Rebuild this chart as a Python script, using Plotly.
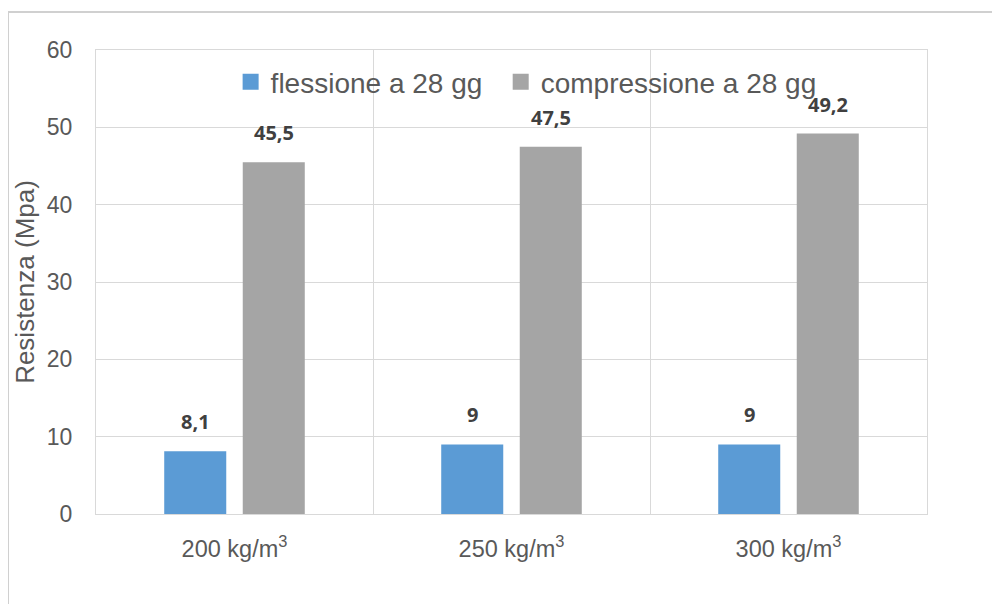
import plotly.graph_objects as go

categories = ["200 kg/m<sup>3</sup>", "250 kg/m<sup>3</sup>", "300 kg/m<sup>3</sup>"]
flessione = [8.1, 9, 9]
compressione = [45.5, 47.5, 49.2]
series_names = ["flessione a 28 gg", "compressione a 28 gg"]
series_colors = ["#5B9BD5", "#A5A5A5"]
y_ticks = [0, 10, 20, 30, 40, 50, 60]

def lab(v):
    return f"{v:g}".replace(".", ",")

fig = go.Figure()
for vals, name, col in zip((flessione, compressione), series_names, series_colors):
    fig.add_trace(go.Bar(x=categories, y=vals, name=name, showlegend=False,
                         marker=dict(color=col, line=dict(width=0))))
# legend entries with larger square swatches, one legend box per series
for name, col, lg in zip(series_names, series_colors, ("legend", "legend2")):
    fig.add_trace(go.Scatter(x=[None], y=[None], mode="markers", name=name, legend=lg,
                             marker=dict(symbol="square", size=16, color=col)))

annotations = []
for vals, shift in ((flessione, -39.25), (compressione, 39.25)):
    for c, v in zip(categories, vals):
        annotations.append(dict(x=c, y=v, xref="x", yref="y", text=f"<b>{lab(v)}</b>",
                                showarrow=False, xshift=shift, xanchor="center",
                                yanchor="bottom", yshift=14,
                                font=dict(family="Open Sans", size=20, color="#404040")))

legend_style = dict(orientation="h", y=0.985, xanchor="left", yanchor="top",
                    font=dict(family="Liberation Sans", size=28, color="#595959"),
                    bgcolor="rgba(0,0,0,0)", itemwidth=30)

fig.update_layout(
    width=1000, height=604,
    margin=dict(l=88, r=81, t=42, b=98),
    paper_bgcolor="white", plot_bgcolor="white",
    barmode="group", bargap=0.433, bargroupgap=0.21,
    showlegend=True,
    legend=dict(x=0.162, **legend_style),
    legend2=dict(x=0.487, **legend_style),
    annotations=annotations,
    xaxis=dict(type="category", tickson="boundaries", showgrid=True, gridcolor="#D9D9D9",
               gridwidth=1, ticks="", showline=True, linecolor="#D9D9D9", mirror=True,
               ticklabelstandoff=14,
               tickfont=dict(family="Liberation Sans", size=23.5, color="#595959")),
    yaxis=dict(range=[0, 60], tickvals=y_ticks, showgrid=True, gridcolor="#D9D9D9",
               gridwidth=1, zeroline=False, showline=True, linecolor="#D9D9D9", mirror=True,
               ticks="", ticklen=0, ticklabelstandoff=18,
               tickfont=dict(family="Liberation Sans", size=23, color="#595959"),
               title=dict(text="Resistenza (Mpa)", standoff=4,
                          font=dict(family="Liberation Sans", size=26, color="#595959"))),
    shapes=[dict(type="rect", xref="paper", yref="paper", x0=-0.1059, x1=1.3, y0=-0.4, y1=1.0819,
                 line=dict(color="#D0D0D0", width=2), fillcolor="rgba(0,0,0,0)", layer="below")],
)

fig.write_html("out.html")
